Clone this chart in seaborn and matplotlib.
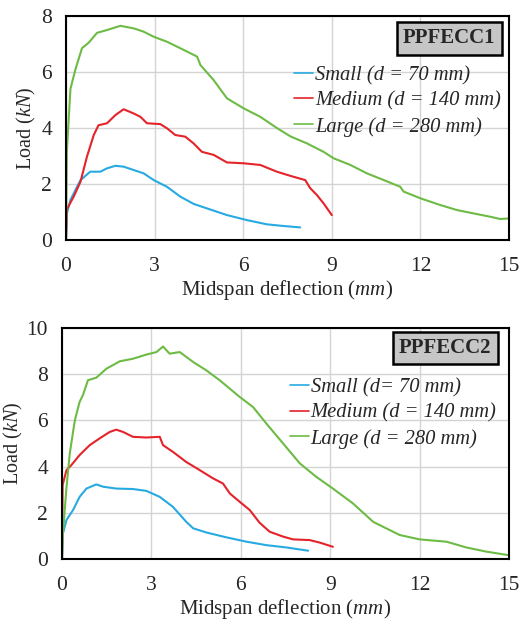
import numpy as np
import pandas as pd
import matplotlib
matplotlib.use("Agg")
import matplotlib.pyplot as plt
import seaborn as sns

# ---------------- data ----------------
# PPFECC1
p1_small_x = [0, 0.03, 0.15, 0.32, 0.49, 0.82, 1.16, 1.39, 1.67, 1.95, 2.29, 2.63, 2.97, 3.42, 3.87, 4.32, 4.77, 5.45, 6.13, 6.8, 7.37, 7.93]
p1_small_y = [0, 0.95, 1.43, 1.79, 2.14, 2.44, 2.44, 2.56, 2.65, 2.62, 2.5, 2.38, 2.14, 1.9, 1.55, 1.29, 1.13, 0.89, 0.71, 0.56, 0.5, 0.45]

p1_med_x = [0, 0.03, 0.26, 0.49, 0.71, 0.94, 1.1, 1.39, 1.67, 1.95, 2.29, 2.52, 2.74, 3.19, 3.42, 3.7, 4.04, 4.32, 4.6, 5.0, 5.45, 6.02, 6.58, 7.14, 7.6, 8.1, 8.27, 8.5, 8.72, 9.0]
p1_med_y = [0, 1.1, 1.55, 2.08, 2.98, 3.75, 4.1, 4.17, 4.46, 4.67, 4.52, 4.4, 4.17, 4.14, 3.99, 3.75, 3.69, 3.45, 3.15, 3.04, 2.77, 2.74, 2.68, 2.44, 2.29, 2.14, 1.85, 1.6, 1.31, 0.89]

p1_large_x = [0, 0.03, 0.15, 0.32, 0.54, 0.77, 1.05, 1.39, 1.84, 2.29, 2.63, 2.97, 3.42, 3.87, 4.44, 4.55, 5.0, 5.45, 6.02, 6.58, 7.14, 7.6, 8.16, 8.72, 9.06, 9.63, 10.19, 10.76, 11.32, 11.43, 12.0, 12.67, 13.24, 13.8, 14.37, 14.7, 15.0]
p1_large_y = [0, 3.2, 5.4, 6.1, 6.85, 7.05, 7.4, 7.5, 7.65, 7.56, 7.44, 7.26, 7.08, 6.85, 6.55, 6.25, 5.71, 5.06, 4.7, 4.4, 4.0, 3.7, 3.45, 3.15, 2.92, 2.68, 2.38, 2.14, 1.9, 1.73, 1.49, 1.25, 1.07, 0.95, 0.83, 0.75, 0.77]

# PPFECC2
p2_small_x = [0, 0.03, 0.15, 0.37, 0.59, 0.82, 1.15, 1.38, 1.82, 2.38, 2.83, 3.28, 3.72, 4.17, 4.4, 4.84, 5.51, 6.19, 6.86, 7.53, 8.26]
p2_small_y = [0, 1.1, 1.69, 2.12, 2.69, 3.05, 3.23, 3.13, 3.05, 3.03, 2.95, 2.69, 2.26, 1.61, 1.33, 1.15, 0.94, 0.75, 0.6, 0.5, 0.36]

p2_med_x = [0, 0.02, 0.15, 0.31, 0.59, 0.93, 1.26, 1.6, 1.82, 2.05, 2.38, 2.83, 3.28, 3.39, 3.72, 4.17, 4.62, 5.07, 5.4, 5.63, 5.96, 6.3, 6.63, 6.97, 7.42, 7.75, 8.31, 8.65, 9.09]
p2_med_y = [0, 3.2, 3.85, 4.06, 4.5, 4.93, 5.22, 5.5, 5.6, 5.5, 5.29, 5.26, 5.29, 4.93, 4.64, 4.2, 3.85, 3.49, 3.27, 2.84, 2.48, 2.12, 1.57, 1.18, 0.97, 0.85, 0.82, 0.71, 0.53]

p2_large_x = [0, 0.03, 0.15, 0.26, 0.43, 0.59, 0.7, 0.87, 1.15, 1.49, 1.94, 2.38, 2.83, 3.17, 3.39, 3.61, 3.95, 4.4, 4.84, 5.29, 5.96, 6.41, 6.86, 7.42, 7.98, 8.53, 9.09, 9.76, 10.44, 11.33, 12.0, 12.9, 13.57, 14.24, 14.97]
p2_large_y = [0, 1.1, 3.1, 4.57, 6.0, 6.8, 7.09, 7.74, 7.85, 8.24, 8.56, 8.67, 8.85, 8.96, 9.2, 8.89, 8.96, 8.53, 8.17, 7.74, 7.02, 6.58, 5.86, 5.0, 4.14, 3.56, 3.05, 2.41, 1.61, 1.04, 0.85, 0.75, 0.5, 0.32, 0.17]

x_ticks = [0, 3, 6, 9, 12, 15]
y_ticks_1 = [0, 2, 4, 6, 8]
y_ticks_2 = [0, 2, 4, 6, 8, 10]

labels_1 = ["Small (d = 70 mm)", "Medium (d = 140 mm)", "Large (d = 280 mm)"]
labels_2 = ["Small (d= 70 mm)", "Medium (d = 140 mm)", "Large (d = 280 mm)"]
titles = ["PPFECC1", "PPFECC2"]
colors = ["#27aae1", "#e4232a", "#6dbb45"]

# ---------------- style ----------------
sns.set_theme(style="whitegrid")
plt.rcParams["font.family"] = ["Liberation Serif", "DejaVu Serif"]
plt.rcParams["mathtext.fontset"] = "custom"
plt.rcParams["mathtext.rm"] = "Liberation Serif"
plt.rcParams["mathtext.it"] = "Liberation Serif:italic"

fig = plt.figure(figsize=(5.26, 6.26), dpi=100)
ax1 = fig.add_axes([0.1255, 0.6166, 0.8422, 0.3578])
ax2 = fig.add_axes([0.1179, 0.1070, 0.8498, 0.3690])


def build(series, labels):
    frames = []
    for (x, y), lab in zip(series, labels):
        frames.append(pd.DataFrame({"x": x, "y": y, "series": lab}))
    return pd.concat(frames, ignore_index=True)


configs = [
    (ax1, build([(p1_small_x, p1_small_y), (p1_med_x, p1_med_y), (p1_large_x, p1_large_y)], labels_1),
     labels_1, y_ticks_1, titles[0], (0.865, 0.90), (0.497, 0.815), 2),
    (ax2, build([(p2_small_x, p2_small_y), (p2_med_x, p2_med_y), (p2_large_x, p2_large_y)], labels_2),
     labels_2, y_ticks_2, titles[1], (0.857, 0.913), (0.492, 0.82), 1),
]

for ax, df, labs, yt, title, tpos, lpos, ylp in configs:
    sns.lineplot(data=df, x="x", y="y", hue="series", hue_order=labs,
                 palette=colors, sort=False, estimator=None, linewidth=1.5, ax=ax)
    ax.set_xlim(0, 15)
    ax.set_ylim(yt[0], yt[-1])
    ax.set_xticks(x_ticks)
    ax.set_yticks(yt)
    ax.tick_params(axis="both", labelsize=15.5, length=0)
    ax.tick_params(axis="x", pad=12)
    ax.tick_params(axis="y", pad=10)
    ax.grid(True, color="#d4d4d4", linewidth=1.0)
    ax.set_facecolor("white")
    for s in ax.spines.values():
        s.set_color("black")
        s.set_linewidth(1.5)
    ax.set_xlabel("Midspan deflection ($\\it{mm}$)", fontsize=15, labelpad=2)
    ax.set_ylabel("Load ($\\it{kN}$)", fontsize=14.5, labelpad=ylp)
    leg = ax.legend(loc="upper left", bbox_to_anchor=lpos, frameon=False,
                    handlelength=0.9, handletextpad=0.1, labelspacing=0.3,
                    borderaxespad=0, prop={"family": "Liberation Serif", "style": "italic", "size": 14.8})
    for h in leg.get_lines():
        h.set_linewidth(1.2)
    ax.text(tpos[0], tpos[1], title, transform=ax.transAxes, ha="center", va="center",
            fontsize=15, fontweight="bold",
            bbox=dict(boxstyle="square,pad=0.3", facecolor="#c6c6c6", edgecolor="black", linewidth=1.8))

fig.savefig("out.png", dpi=100, facecolor="white")
